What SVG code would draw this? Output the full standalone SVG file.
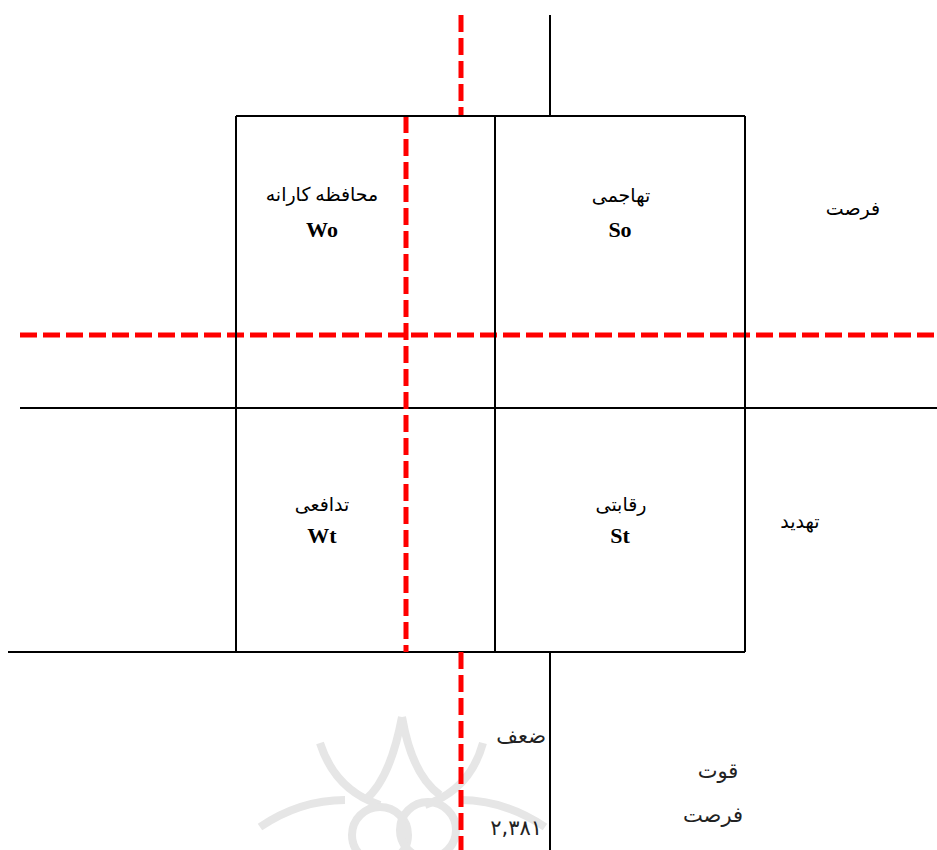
<svg xmlns="http://www.w3.org/2000/svg" width="937" height="850" viewBox="0 0 937 850">
<style>
.ln{stroke:#000;stroke-width:2;fill:none}
.rd{stroke:#ff0000;stroke-width:5;stroke-dasharray:17 6;fill:none}
.fa{font-family:"Liberation Serif","DejaVu Sans",serif;font-size:19px;fill:#000;text-anchor:middle}
.en{font-family:"Liberation Serif",serif;font-size:22px;font-weight:bold;fill:#000;text-anchor:middle}
.sa{font-family:"DejaVu Sans","Liberation Sans",sans-serif;font-size:21px;fill:#222}
.wm{stroke:#e6e6e6;stroke-width:8;fill:none}
</style>
<rect width="937" height="850" fill="#fff"/>
<g id="watermark">
<path class="wm" d="M320,743 Q335,790 380,805"/>
<path class="wm" d="M402,717 Q390,780 365,800"/>
<path class="wm" d="M402,717 Q412,775 440,795"/>
<path class="wm" d="M483,743 Q470,790 425,805"/>
<path class="wm" d="M260,827 Q300,800 345,800"/>
<circle class="wm" cx="380" cy="835" r="28"/>
<circle class="wm" cx="428" cy="830" r="28"/>
<path class="wm" d="M545,827 Q505,800 460,800"/>
</g>
<g id="connectors">
<line class="ln" x1="550" y1="15" x2="550" y2="116"/>
<line class="ln" x1="550" y1="652" x2="550" y2="850"/>
<line class="ln" x1="20" y1="408" x2="937" y2="408"/>
<line class="ln" x1="8" y1="652" x2="745" y2="652"/>
<line class="rd" x1="461" y1="15" x2="461" y2="116"/>
<line class="rd" x1="406" y1="116" x2="406" y2="652"/>
<line class="rd" x1="461" y1="652" x2="461" y2="850"/>
<line class="rd" x1="20" y1="335" x2="937" y2="335"/>
</g>
<g id="grid">
<line class="ln" x1="236" y1="116" x2="745" y2="116"/>
<line class="ln" x1="236" y1="116" x2="236" y2="652"/>
<line class="ln" x1="745" y1="116" x2="745" y2="652"/>
<line class="ln" x1="495" y1="116" x2="495" y2="652"/>
</g>
<g id="node-wo">
<text class="fa" x="322" y="201">محافظه کارانه</text>
<text class="en" x="322" y="237">Wo</text>
</g>
<g id="node-so">
<text class="fa" x="621" y="202">تهاجمی</text>
<text class="en" x="620" y="237">So</text>
</g>
<g id="node-wt">
<text class="fa" x="322" y="511">تدافعی</text>
<text class="en" x="322" y="543">Wt</text>
</g>
<g id="node-st">
<text class="fa" x="621" y="511">رقابتی</text>
<text class="en" x="620" y="543">St</text>
</g>
<g id="labels">
<text class="fa" x="853" y="215">فرصت</text>
<text class="fa" x="800" y="528">تهدید</text>
<text class="sa" x="546" y="743" text-anchor="end">ضعف</text>
<text class="sa" x="542" y="835" text-anchor="end">٢,٣٨١</text>
<text class="sa" x="718" y="778" text-anchor="middle">قوت</text>
<text class="sa" x="713" y="822" text-anchor="middle">فرصت</text>
</g>
</svg>
